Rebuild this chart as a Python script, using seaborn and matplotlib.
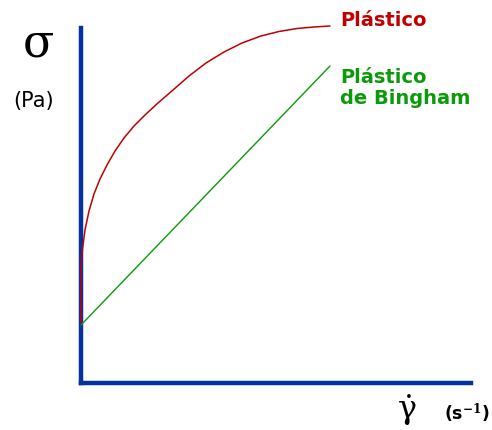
import matplotlib
matplotlib.use("Agg")
import matplotlib.pyplot as plt
import seaborn as sns
import pandas as pd

# Plastic curve, shear rate vs stress, arbitrary units
plastic_rate = [0, 0, 0.3, 1.5, 4, 8, 13, 19, 26, 34, 43, 53, 64, 77, 92, 108,
                125, 143, 161, 180, 198, 216, 233, 249]
plastic_stress = [60, 96, 118, 134, 153, 172, 189, 204, 218, 232, 245, 257, 268, 280, 293, 307,
                  320, 331, 340, 347, 351.5, 354.5, 356, 357]

# Bingham plastic line
bingham_rate = [0, 249]
bingham_stress = [58, 317]

sns.set_style("white")
plt.rcParams['font.family'] = ['DejaVu Sans']
plt.rcParams['mathtext.fontset'] = 'dejavuserif'

fig = plt.figure(figsize=(4.92, 4.30), dpi=100)
ax = fig.add_axes([81/492, 47/430, 390/492, 355/430])

df_p = pd.DataFrame({"rate": plastic_rate, "stress": plastic_stress})
df_b = pd.DataFrame({"rate": bingham_rate, "stress": bingham_stress})

sns.lineplot(data=df_p, x="rate", y="stress", ax=ax, color="#c00000", linewidth=1.1,
             sort=False, estimator=None)
sns.lineplot(data=df_b, x="rate", y="stress", ax=ax, color="#0a9a0a", linewidth=1.0,
             sort=False, estimator=None)
for ln in ax.lines:
    ln.set_clip_on(False)
    ln.set_solid_joinstyle("round")
    ln.set_zorder(4)

ax.set_xlim(0, 390)
ax.set_ylim(0, 355)
ax.set_xticks([])
ax.set_yticks([])
ax.set_xlabel("")
ax.set_ylabel("")
for s in ["top", "right"]:
    ax.spines[s].set_visible(False)
for s in ["left", "bottom"]:
    ax.spines[s].set_color("#0033a0")
    ax.spines[s].set_linewidth(3.2)
    ax.spines[s].set_capstyle("projecting")

fig.text(38/492, 1 - 44/430, "σ", fontsize=33, family="DejaVu Serif", color="black",
         ha="center", va="center")
fig.text(34/492, 1 - 101/430, "(Pa)", fontsize=15, color="black", ha="center", va="center")
fig.text(407/492, 1 - 410/430, r"$\dot{\mathrm{\gamma}}$", fontsize=23, color="black",
         ha="center", va="center")
fig.text(467/492, 1 - 413/430, "(s$^{\\mathbf{-1}}$)", fontsize=12.5, fontweight="bold",
         color="black", ha="center", va="center")

fig.text(340/492, 1 - 21/430, "Plástico", fontsize=14, fontweight="bold",
         color="#c00000", ha="left", va="center")
fig.text(340/492, 1 - 88/430, "Plástico\nde Bingham", fontsize=14, fontweight="bold",
         color="#0a9a0a", ha="left", va="center", linespacing=1.1)

fig.savefig("out.png", dpi=100)
